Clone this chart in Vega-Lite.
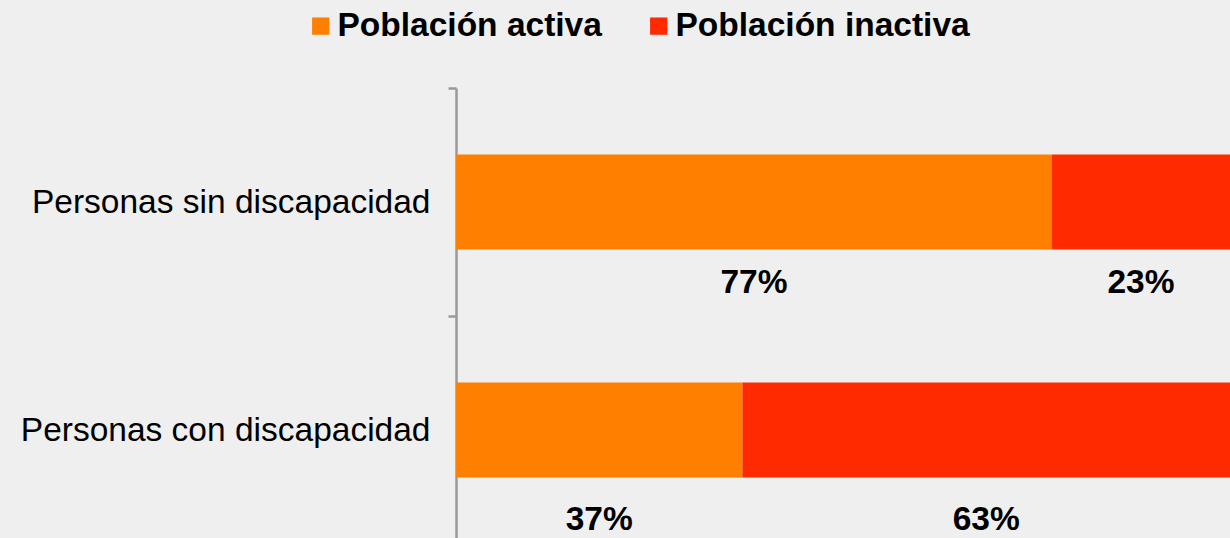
{
  "$schema": "https://vega.github.io/schema/vega-lite/v6.json",
  "width": 774,
  "height": 450,
  "autosize": {"type": "none"},
  "padding": {"left": 456, "top": 88, "right": 0, "bottom": 0},
  "background": "#efefef",
  "config": {"view": {"stroke": null}, "font": "Liberation Sans"},
  "data": {
    "values": [
      {"grupo": "Personas sin discapacidad", "serie": "Población activa", "valor": 0.77},
      {"grupo": "Personas sin discapacidad", "serie": "Población inactiva", "valor": 0.23},
      {"grupo": "Personas con discapacidad", "serie": "Población activa", "valor": 0.37},
      {"grupo": "Personas con discapacidad", "serie": "Población inactiva", "valor": 0.63}
    ]
  },
  "encoding": {
    "y": {
      "field": "grupo",
      "type": "nominal",
      "sort": ["Personas sin discapacidad", "Personas con discapacidad"],
      "scale": {"paddingInner": 0, "paddingOuter": 0, "range": [0, 456]},
      "axis": {
        "title": null,
        "domainColor": "#9a9a9a",
        "domainWidth": 2.5,
        "tickColor": "#9a9a9a",
        "tickWidth": 2.5,
        "tickSize": 8,
        "tickBand": "extent",
        "labelFont": "Liberation Sans",
        "labelFontSize": 33.5,
        "labelColor": "#000000",
        "labelPadding": 18,
        "labelLimit": 600
      }
    }
  },
  "layer": [
    {
      "mark": {"type": "bar", "size": 95},
      "encoding": {
        "x": {"field": "valor", "type": "quantitative", "stack": "zero", "scale": {"domain": [0, 1]}, "axis": null},
        "color": {
          "field": "serie",
          "type": "nominal",
          "scale": {"domain": ["Población activa", "Población inactiva"], "range": ["#FF7F00", "#FF2A00"]},
          "legend": {
            "title": null,
            "orient": "none",
            "direction": "horizontal",
            "legendX": -152,
            "legendY": -79,
            "symbolType": "square",
            "symbolSize": 300,
            "symbolStrokeWidth": 0,
            "symbolOpacity": 1,
            "labelFont": "Liberation Sans",
            "labelFontSize": 33.5,
            "labelFontWeight": "bold",
            "labelColor": "#000000",
            "labelOffset": 0,
            "labelLimit": 600,
            "columnPadding": 40
          }
        }
      }
    },
    {
      "transform": [
        {"stack": "valor", "groupby": ["grupo"], "sort": [{"field": "serie"}], "as": ["v0", "v1"]},
        {"calculate": "(datum.v0 + datum.v1) / 2", "as": "mid"},
        {"filter": "datum.grupo === 'Personas sin discapacidad'"}
      ],
      "mark": {"type": "text", "fontSize": 33.5, "fontWeight": "bold", "color": "#000000", "align": "center", "baseline": "middle", "dy": 81},
      "encoding": {
        "x": {"field": "mid", "type": "quantitative", "scale": {"domain": [0, 1]}},
        "text": {"field": "valor", "type": "quantitative", "format": ".0%"}
      }
    },
    {
      "transform": [
        {"stack": "valor", "groupby": ["grupo"], "sort": [{"field": "serie"}], "as": ["v0", "v1"]},
        {"calculate": "(datum.v0 + datum.v1) / 2", "as": "mid"},
        {"filter": "datum.grupo === 'Personas con discapacidad'"}
      ],
      "mark": {"type": "text", "fontSize": 33.5, "fontWeight": "bold", "color": "#000000", "align": "center", "baseline": "middle", "dy": 90},
      "encoding": {
        "x": {"field": "mid", "type": "quantitative", "scale": {"domain": [0, 1]}},
        "text": {"field": "valor", "type": "quantitative", "format": ".0%"}
      }
    }
  ]
}
